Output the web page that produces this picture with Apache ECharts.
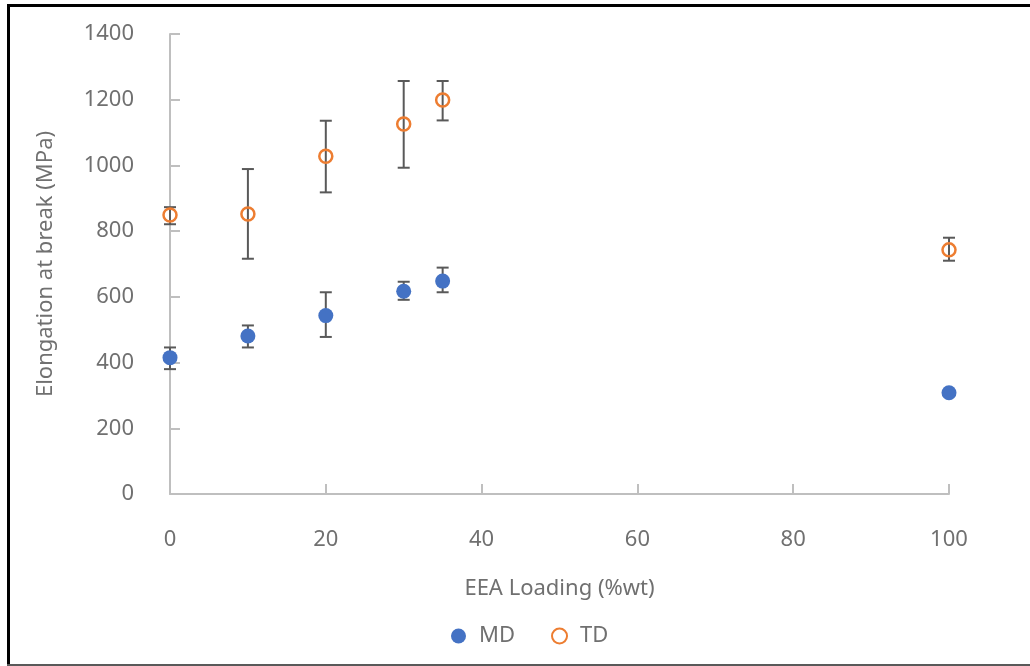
<!DOCTYPE html>
<html>
<head>
<meta charset="utf-8">
<script src="https://cdn.jsdelivr.net/npm/echarts@6/dist/echarts.min.js"></script>
<style>
  html, body { margin: 0; padding: 0; background: #fff; }
  #chart { width: 1030px; height: 666px; }
</style>
</head>
<body>
<div id="chart"></div>
<script>
// EEA loading (%wt)
var loading = [0, 10, 20, 30, 35, 100];

// MD: mean, lower and upper error bar ends
var mdValues = [415, 481, 543, 617, 648, 308];
var mdLow = [380, 446, 478, 591, 614, 302];
var mdHigh = [446, 513, 614, 646, 689, 314];

// TD: mean, lower and upper error bar ends
var tdValues = [849, 852, 1028, 1126, 1199, 743];
var tdLow = [821, 716, 918, 993, 1137, 710];
var tdHigh = [873, 989, 1136, 1257, 1257, 780];

var textColor = '#707070';
var font = 'Noto Sans';

function points(vals) {
  return loading.map(function (x, i) { return [x, vals[i]]; });
}
function bars(low, high) {
  return loading.map(function (x, i) { return [x, low[i], high[i]]; });
}

function renderErrorBar(params, api) {
  var x = api.value(0);
  var lo = api.coord([x, api.value(1)]);
  var hi = api.coord([x, api.value(2)]);
  var half = 6;
  var style = { stroke: '#595959', lineWidth: 2, fill: null };
  return {
    type: 'group',
    children: [
      { type: 'line', shape: { x1: lo[0], y1: lo[1], x2: hi[0], y2: hi[1] }, style: style },
      { type: 'line', shape: { x1: hi[0] - half, y1: hi[1], x2: hi[0] + half, y2: hi[1] }, style: style },
      { type: 'line', shape: { x1: lo[0] - half, y1: lo[1], x2: lo[0] + half, y2: lo[1] }, style: style }
    ]
  };
}

var chart = echarts.init(document.getElementById('chart'));

var option = {
  animation: false,
  backgroundColor: '#fff',
  textStyle: { fontFamily: font },
  graphic: [
    { type: 'rect', shape: { x: 7, y: 4, width: 3, height: 662 }, style: { fill: '#000' } },
    { type: 'rect', shape: { x: 7, y: 4, width: 1023, height: 3 }, style: { fill: '#000' } },
    { type: 'rect', shape: { x: 7, y: 664, width: 1023, height: 2 }, style: { fill: '#595959' } }
  ],
  grid: { left: 170, right: 81, top: 34, bottom: 172 },
  legend: {
    bottom: 14,
    left: 446,
    itemWidth: 15,
    itemHeight: 15,
    itemGap: 36,
    textStyle: { color: textColor, fontSize: 22, fontFamily: font, padding: [0, 0, 0, 8] },
    data: ['MD', 'TD']
  },
  xAxis: {
    type: 'value',
    min: 0,
    max: 100,
    interval: 20,
    name: 'EEA Loading (%wt)',
    nameLocation: 'middle',
    nameGap: 84,
    nameTextStyle: { color: textColor, fontSize: 22, fontFamily: font },
    axisLine: { lineStyle: { color: '#BFBFBF', width: 2 } },
    axisTick: { show: true, inside: true, length: 10, lineStyle: { color: '#BFBFBF', width: 2 } },
    axisLabel: { color: textColor, fontSize: 22, margin: 35, fontFamily: font },
    splitLine: { show: false }
  },
  yAxis: {
    type: 'value',
    min: 0,
    max: 1400,
    interval: 200,
    name: 'Elongation at break (MPa)',
    nameLocation: 'middle',
    nameGap: 113,
    nameTextStyle: { color: textColor, fontSize: 22, fontFamily: font },
    axisLine: { show: true, lineStyle: { color: '#BFBFBF', width: 2 } },
    axisTick: { show: true, inside: true, length: 10, lineStyle: { color: '#BFBFBF', width: 2 } },
    axisLabel: {
      color: textColor, fontSize: 22, margin: 36, fontFamily: font,
      formatter: function (v) { return String(v); }
    },
    splitLine: { show: false }
  },
  series: [
    {
      name: 'MD error',
      type: 'custom',
      renderItem: renderErrorBar,
      data: bars(mdLow, mdHigh),
      encode: { x: 0, y: [1, 2] },
      z: 1,
      silent: true
    },
    {
      name: 'TD error',
      type: 'custom',
      renderItem: renderErrorBar,
      data: bars(tdLow, tdHigh),
      encode: { x: 0, y: [1, 2] },
      z: 1,
      silent: true
    },
    {
      name: 'MD',
      type: 'scatter',
      symbol: 'circle',
      symbolSize: 15,
      itemStyle: { color: '#4472C4', opacity: 1 },
      data: points(mdValues),
      z: 3
    },
    {
      name: 'TD',
      type: 'scatter',
      symbol: 'circle',
      symbolSize: 13,
      itemStyle: { color: 'rgba(255,255,255,0)', borderColor: '#ED7D31', borderWidth: 2.5, opacity: 1 },
      data: points(tdValues),
      z: 3
    }
  ]
};

chart.setOption(option);
</script>
</body>
</html>
